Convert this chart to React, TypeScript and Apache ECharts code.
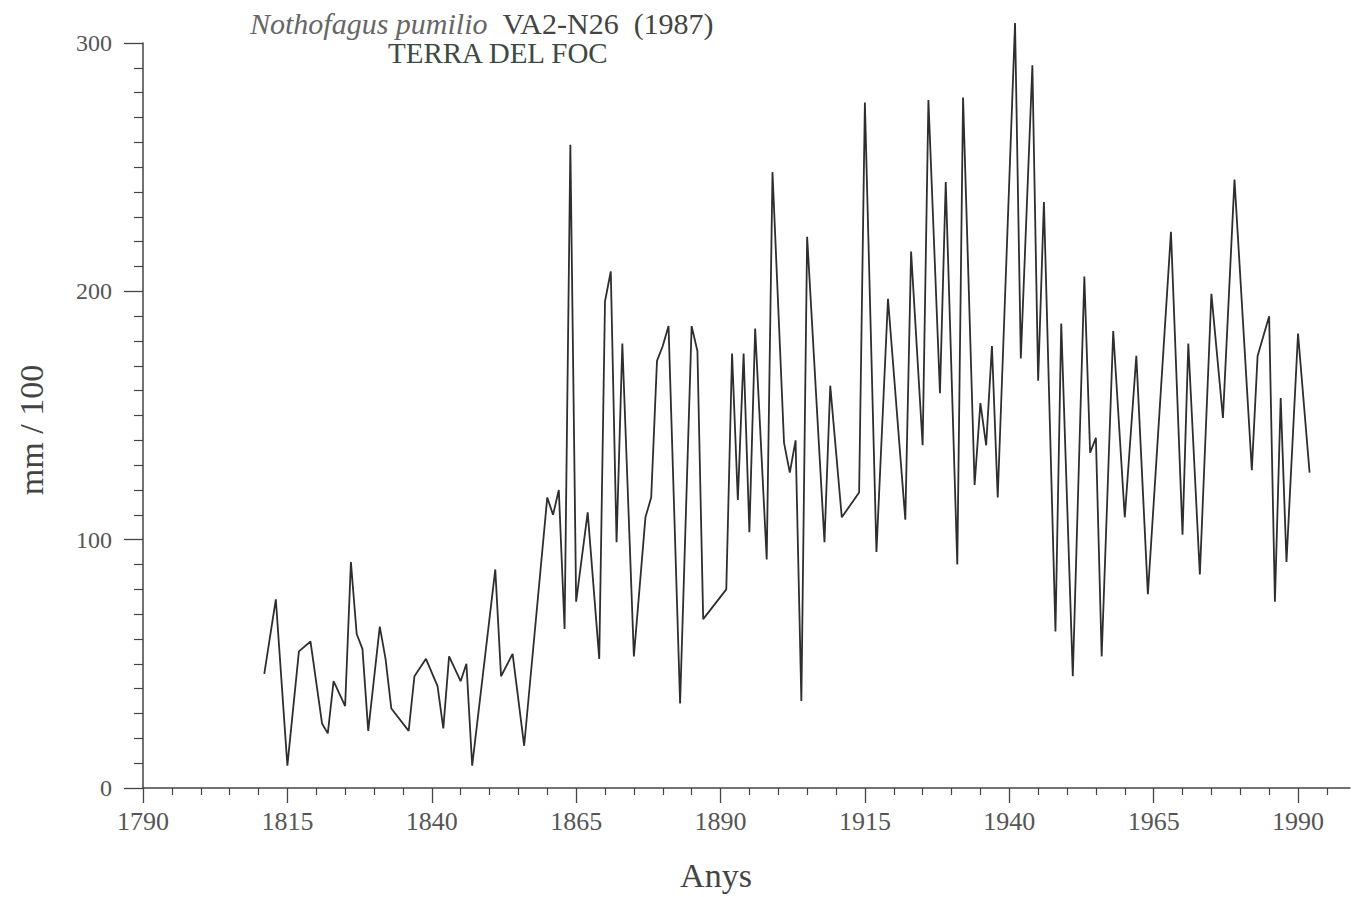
import React, { useEffect, useRef } from "react";
import * as echarts from "echarts";

const years = [
  1811, 1813, 1815, 1817, 1819, 1821, 1822, 1823, 1825, 1826, 1827, 1828, 1829, 1831, 1832, 1833,
  1836, 1837, 1839, 1841, 1842, 1843, 1845, 1846, 1847, 1851, 1852, 1854, 1856, 1860, 1861, 1862,
  1863, 1864, 1865, 1867, 1869, 1870, 1871, 1872, 1873, 1875, 1877, 1878, 1879, 1880, 1881, 1883,
  1885, 1886, 1887, 1891, 1892, 1893, 1894, 1895, 1896, 1898, 1899, 1901, 1902, 1903, 1904, 1905,
  1908, 1909, 1911, 1914, 1915, 1917, 1919, 1922, 1923, 1925, 1926, 1928, 1929, 1931, 1932, 1934,
  1935, 1936, 1937, 1938, 1941, 1942, 1944, 1945, 1946, 1948, 1949, 1951, 1953, 1954, 1955, 1956,
  1958, 1960, 1962, 1964, 1968, 1970, 1971, 1973, 1975, 1977, 1979, 1982, 1983, 1985, 1986, 1987,
  1988, 1990, 1992,
];

const widths = [
  46, 76, 9, 55, 59, 26, 22, 43, 33, 91, 62, 56, 23, 65, 52, 32,
  23, 45, 52, 41, 24, 53, 43, 50, 9, 88, 45, 54, 17, 117, 110, 120,
  64, 259, 75, 111, 52, 196, 208, 99, 179, 53, 109, 117, 172, 178, 186, 34,
  186, 176, 68, 80, 175, 116, 175, 103, 185, 92, 248, 139, 127, 140, 35, 222,
  99, 162, 109, 119, 276, 95, 197, 108, 216, 138, 277, 159, 244, 90, 278, 122,
  155, 138, 178, 117, 308, 173, 291, 164, 236, 63, 187, 45, 206, 135, 141, 53,
  184, 109, 174, 78, 224, 102, 179, 86, 199, 149, 245, 128, 174, 190, 75, 157,
  91, 183, 127,
];

const xMajorTicks = [1790, 1815, 1840, 1865, 1890, 1915, 1940, 1965, 1990];
const xMinorTicks = [
  1795, 1800, 1805, 1810, 1820, 1825, 1830, 1835, 1845, 1850, 1855, 1860, 1870, 1875, 1880, 1885,
  1895, 1900, 1905, 1910, 1920, 1925, 1930, 1935, 1945, 1950, 1955, 1960, 1970, 1975, 1980, 1985,
  1995,
];

const titleMain = "{i|Nothofagus pumilio}  {n|VA2-N26  (1987)}";
const titleSub = "TERRA DEL FOC";
const xName = "Anys";
const yName = "mm / 100";

const serif = "'Liberation Serif', 'DejaVu Serif', serif";

export default function App() {
  const ref = useRef<HTMLDivElement>(null);

  useEffect(() => {
    document.body.style.margin = "0";
    const chart = echarts.init(ref.current as HTMLDivElement, null, { renderer: "svg" });
    const data = years.map((y, i) => [y, widths[i]]);
    chart.setOption({
      animation: false,
      backgroundColor: "#ffffff",
      title: [
        {
          text: titleMain,
          left: 245,
          top: 3,
          textStyle: {
            fontFamily: serif,
            fontWeight: "normal",
            fontSize: 30,
            color: "#555",
            rich: {
              i: { fontFamily: serif, fontStyle: "italic", fontSize: 30, color: "#666" },
              n: { fontFamily: serif, fontSize: 30, color: "#444" },
            },
          },
        },
        {
          text: titleSub,
          left: 383,
          top: 33,
          textStyle: { fontFamily: serif, fontWeight: "normal", fontSize: 29, color: "#3d4a42" },
        },
      ],
      grid: { left: 143, right: 21, top: 43, bottom: 109, containLabel: false },
      xAxis: [
        {
          type: "value",
          min: 1790,
          max: 1999,
          position: "bottom",
          axisLine: { show: true, lineStyle: { color: "#444", width: 1.5 } },
          axisTick: { show: true, customValues: xMajorTicks, length: 15, lineStyle: { color: "#444", width: 1.3 } },
          axisLabel: {
            show: true,
            customValues: xMajorTicks,
            margin: 20,
            fontFamily: serif,
            fontSize: 26,
            color: "#555",
            formatter: (v: number) => String(v),
          },
          splitLine: { show: false },
        },
        {
          type: "value",
          min: 1790,
          max: 1999,
          position: "bottom",
          gridIndex: 0,
          axisLine: { show: false },
          axisTick: { show: true, customValues: xMinorTicks, length: 7, lineStyle: { color: "#444", width: 1.2 } },
          axisLabel: { show: false },
          splitLine: { show: false },
        },
      ],
      yAxis: {
        type: "value",
        min: 0,
        max: 300,
        interval: 100,
        axisLine: { show: true, lineStyle: { color: "#444", width: 1.5 } },
        axisTick: { show: true, length: 19, lineStyle: { color: "#444", width: 1.3 } },
        minorTick: { show: true, splitNumber: 10, length: 9, lineStyle: { color: "#444", width: 1.2 } },
        axisLabel: { margin: 31, fontFamily: serif, fontSize: 24, color: "#555" },
        splitLine: { show: false },
        minorSplitLine: { show: false },
      },
      graphic: [
        {
          type: "text",
          x: 716,
          y: 875,
          style: {
            text: xName,
            fontFamily: serif,
            fontSize: 34,
            fill: "#444",
            align: "center",
            verticalAlign: "middle",
          },
        },
        {
          type: "text",
          x: 31,
          y: 430,
          rotation: Math.PI / 2,
          style: {
            text: yName,
            fontFamily: serif,
            fontSize: 34,
            fill: "#444",
            align: "center",
            verticalAlign: "middle",
          },
        },
      ],
      series: [
        {
          type: "line",
          xAxisIndex: 0,
          data,
          clip: false,
          symbol: "none",
          lineStyle: { color: "#2e2e2e", width: 1.8 },
        },
      ],
    });
    return () => chart.dispose();
  }, []);

  return <div ref={ref} style={{ width: 1371, height: 897 }} />;
}
